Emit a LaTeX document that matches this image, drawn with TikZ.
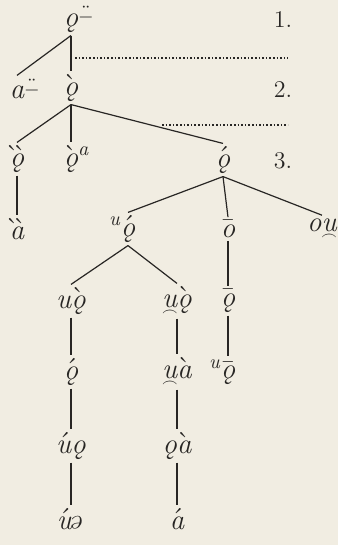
\documentclass[tikz,border=0pt]{standalone}
\usepackage{amsmath}
\usepackage{mathtools}
\usepackage{graphicx}

\definecolor{papier}{RGB}{241,237,226}
\definecolor{tinte}{RGB}{40,38,36}

% Zeichen
\newcommand{\ogo}{\ooalign{o\crcr\hidewidth\kern0.08em\symbol{"02DB}\hidewidth}}
\newcommand{\akz}[2]{\ensuremath{#1{\mbox{#2}}}}
\newcommand{\dgr}[1]{\ensuremath{\mathrlap{\mkern2mu\grave{\phantom{\mbox{#1}}}}\mathrlap{\mkern-2.5mu\grave{\phantom{\mbox{#1}}}}\mbox{#1}}}
\newcommand{\nsil}[1]{\ooalign{#1\crcr\hidewidth\raisebox{-0.65ex}{$\scriptscriptstyle\frown$}\hidewidth}}
\newcommand{\zirk}{\rlap{\raisebox{0.3ex}{$\scriptstyle\ddot{-}$}}}
\newcommand{\schwa}{\rotatebox[origin=c]{180}{e}}

\tikzset{
	knoten/.style={inner sep=1.5pt, text=tinte, font=\Large\itshape},
	ebene/.style={inner sep=1pt, text=tinte, font=\large},
	kante/.style={line width=0.6pt, draw=tinte},
	trenner/.style={densely dotted, line width=0.8pt, draw=tinte}
}

\begin{document}
\begin{tikzpicture}[x=0.5pt, y=-0.5pt]
	\fill[papier] (0, 0) rectangle (338, 545);
	\useasboundingbox (0, 0) rectangle (338, 545);

	% Ebenen
	\node[ebene] (eins) at (283, 20) {1.};
	\node[ebene] (zwei) at (283, 90) {2.};
	\node[ebene] (drei) at (283, 161) {3.};
	\draw[trenner] (75, 58) -- (288, 58);
	\draw[trenner] (162, 125) -- (288, 125);

	% Stufe 1 und 2
	\node[knoten] (wurzel) at (71, 19) {\ogo\zirk};
	\node[knoten] (a) at (17, 89) {a\zirk};
	\node[knoten] (ogr) at (71, 88) {\akz\grave{\ogo}};

	% Stufe 3
	\node[knoten] (odg) at (17, 159) {\dgr{\ogo}};
	\node[knoten] (ogra) at (71, 159) {\akz\grave{\ogo}\rlap{\textsuperscript{a}}};
	\node[knoten] (oak) at (223, 160) {\akz\acute{\ogo}};

	% Zeile 4
	\node[knoten] (adg) at (17, 229) {\dgr{a}};
	\node[knoten] (uoak) at (128, 229) {\llap{\textsuperscript{u}}\akz\acute{\ogo}};
	\node[knoten] (olang) at (228, 229) {\akz\bar{o}};
	\node[knoten] (ou) at (322, 229) {o\nsil{u}};

	% Zeile 5
	\node[knoten] (uogr) at (71, 301) {u\akz\grave{\ogo}};
	\node[knoten] (nogr) at (177, 301) {\nsil{u}\akz\grave{\ogo}};
	\node[knoten] (oglang) at (228, 301) {\akz\bar{\ogo}};

	% Zeile 6
	\node[knoten] (oak2) at (71, 372) {\akz\acute{\ogo}};
	\node[knoten] (nagr) at (177, 372) {\nsil{u}\akz\grave{a}};
	\node[knoten] (uoglang) at (228, 372) {\llap{\textsuperscript{u}}\akz\bar{\ogo}};

	% Zeile 7 und 8
	\node[knoten] (uako) at (71, 446) {\akz\acute{u}\ogo};
	\node[knoten] (oagr) at (177, 446) {\ogo\akz\grave{a}};
	\node[knoten] (uaks) at (71, 519) {\akz\acute{u}\schwa};
	\node[knoten] (aak) at (177, 519) {\akz\acute{a}};

	% Kanten
	\draw[kante] (wurzel.south) -- (a.north);
	\draw[kante] (wurzel.south) -- (ogr.north);
	\draw[kante] (ogr.south) -- (odg.north);
	\draw[kante] (ogr.south) -- (ogra.north);
	\draw[kante] (ogr.south) -- (oak.north);
	\draw[kante] (odg.south) -- (adg.north);
	\draw[kante] (oak.south) -- (uoak.north);
	\draw[kante] (oak.south) -- (olang.north);
	\draw[kante] (oak.south) -- (ou.north);
	\draw[kante] (uoak.south) -- (uogr.north);
	\draw[kante] (uoak.south) -- (nogr.north);
	\draw[kante] (olang.south) -- (oglang.north);
	\draw[kante] (oglang.south) -- (uoglang.north);
	\draw[kante] (uogr.south) -- (oak2.north);
	\draw[kante] (nogr.south) -- (nagr.north);
	\draw[kante] (oak2.south) -- (uako.north);
	\draw[kante] (nagr.south) -- (oagr.north);
	\draw[kante] (uako.south) -- (uaks.north);
	\draw[kante] (oagr.south) -- (aak.north);
\end{tikzpicture}
\end{document}
